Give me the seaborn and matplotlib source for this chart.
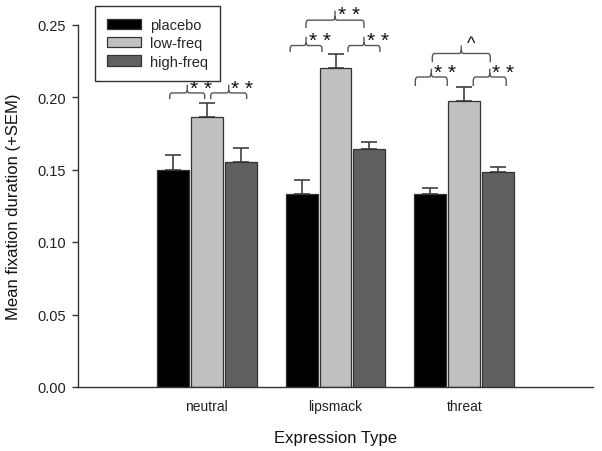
import numpy as np
import pandas as pd
import matplotlib
matplotlib.use("Agg")
import matplotlib.pyplot as plt
import seaborn as sns
from matplotlib.path import Path
from matplotlib.patches import PathPatch, Patch

# ---- data ----
expressions = ["neutral", "lipsmack", "threat"]
conditions = ["placebo", "low-freq", "high-freq"]
placebo_mean = [0.150, 0.133, 0.133]
lowfreq_mean = [0.186, 0.220, 0.197]
highfreq_mean = [0.155, 0.164, 0.148]
placebo_sem = [0.010, 0.010, 0.004]
lowfreq_sem = [0.010, 0.010, 0.010]
highfreq_sem = [0.010, 0.005, 0.004]
bar_colors = ["#000000", "#c0c0c0", "#606060"]

# significance brackets: (group index, x offset start, x offset end, y bottom, y top, y tip, label)
brace_group = [0, 0, 1, 1, 1, 2, 2, 2]
brace_x0 = [-0.287, 0.031, -0.352, 0.097, -0.229, -0.380, 0.070, -0.248]
brace_x1 = [-0.016, 0.310, -0.105, 0.345, 0.221, -0.132, 0.326, 0.202]
brace_yb = [0.1986, 0.1986, 0.2310, 0.2310, 0.2476, 0.2076, 0.2076, 0.2240]
brace_yt = [0.2028, 0.2028, 0.2355, 0.2355, 0.2530, 0.2138, 0.2138, 0.2300]
brace_tip = [0.2085, 0.2085, 0.2415, 0.2415, 0.2595, 0.2195, 0.2195, 0.2355]
brace_lbl = ["* *", "* *", "* *", "* *", "* *", "* *", "* *", "^"]

rows = []
for cond, means, sems in [("placebo", placebo_mean, placebo_sem),
                          ("low-freq", lowfreq_mean, lowfreq_sem),
                          ("high-freq", highfreq_mean, highfreq_sem)]:
    for e, m, s in zip(expressions, means, sems):
        rows.append({"Expression": e, "Condition": cond, "mean": m, "sem": s})
df = pd.DataFrame(rows)

sns.set_style("white")
plt.rcParams["font.family"] = ["Liberation Sans", "DejaVu Sans"]

fig = plt.figure(figsize=(6.02, 4.52), dpi=100)
ax = fig.add_axes([78/602, 1-388/452, (593-78)/602, (388-25.5)/452])

sns.barplot(data=df, x="Expression", y="mean", hue="Condition",
            order=expressions, hue_order=conditions, palette=bar_colors,
            errorbar=None, width=0.79, gap=0.06, edgecolor="#333333",
            linewidth=0.9, saturation=1, legend=False, ax=ax, zorder=2)

sem_by_cond = {"placebo": placebo_sem, "low-freq": lowfreq_sem, "high-freq": highfreq_sem}
mean_by_cond = {"placebo": placebo_mean, "low-freq": lowfreq_mean, "high-freq": highfreq_mean}
for cond, cont in zip(conditions, ax.containers):
    xs = [b.get_x() + b.get_width()/2 for b in cont]
    ax.errorbar(xs, mean_by_cond[cond], yerr=[np.zeros(3), sem_by_cond[cond]],
                fmt="none", ecolor="#404040", elinewidth=1.2, capsize=5.5,
                capthick=1.2, zorder=1)

ax.set_xlim(-1, 3)
ax.set_ylim(0, 0.25)
ax.set_yticks([0, 0.05, 0.10, 0.15, 0.20, 0.25])
ax.set_yticklabels(["0.00", "0.05", "0.10", "0.15", "0.20", "0.25"])
for s in ["top", "right"]:
    ax.spines[s].set_visible(False)
for s in ["left", "bottom"]:
    ax.spines[s].set_color("#333333")
    ax.spines[s].set_linewidth(1.0)
ax.tick_params(axis="y", direction="out", length=4.5, width=1, color="#333333",
               labelsize=10.5, pad=4, left=True, labelcolor="#222222")
ax.tick_params(axis="x", length=0, labelsize=10, pad=9, labelcolor="#222222")
ax.set_xlabel("Expression Type", fontsize=12, labelpad=12, color="#111111")
ax.set_ylabel("Mean fixation duration (+SEM)", fontsize=12, labelpad=12, color="#111111")

# legend
handles = [Patch(facecolor=c, edgecolor="#333333", linewidth=0.9) for c in bar_colors]
leg = ax.legend(handles, conditions, loc="upper left", bbox_to_anchor=(95/602, 1-7/452),
                bbox_transform=fig.transFigure, fontsize=10.5, frameon=True, fancybox=False,
                handlelength=2.3, handleheight=0.7, labelspacing=0.28, handletextpad=0.6,
                borderpad=0.85, borderaxespad=0)
leg.get_frame().set_edgecolor("#000000")
leg.get_frame().set_linewidth(1.0)

# braces
def draw_brace(x0, x1, yb, yt, ytip, label):
    xm = (x0 + x1) / 2
    rx = 0.018
    ry = (yt - yb) * 0.45
    verts = [(x0, yb), (x0, yt - ry), (x0, yt), (x0 + rx, yt),
             (xm - rx, yt), (xm, yt), (xm, yt + ry), (xm, ytip),
             (xm, yt + ry), (xm, yt), (xm + rx, yt),
             (x1 - rx, yt), (x1, yt), (x1, yt - ry), (x1, yb)]
    codes = [Path.MOVETO, Path.LINETO, Path.CURVE3, Path.CURVE3,
             Path.LINETO, Path.CURVE3, Path.CURVE3, Path.LINETO,
             Path.MOVETO, Path.CURVE3, Path.CURVE3,
             Path.LINETO, Path.CURVE3, Path.CURVE3, Path.LINETO]
    p = PathPatch(Path(verts, codes), facecolor="none", edgecolor="#555555",
                  linewidth=1.0, clip_on=False)
    ax.add_patch(p)
    if label == "^":
        ax.text(xm + 0.04, ytip + 0.0015, label, ha="left", va="center",
                fontsize=13, color="#111111", clip_on=False)
    else:
        ax.text(xm + 0.02, ytip - 0.0028, label, ha="left", va="center",
                fontsize=15, color="#111111", clip_on=False)

for g, a, b, yb, yt, tp, lb in zip(brace_group, brace_x0, brace_x1, brace_yb,
                                    brace_yt, brace_tip, brace_lbl):
    draw_brace(g + a, g + b, yb, yt, tp, lb)

fig.savefig("out.png", dpi=100)
